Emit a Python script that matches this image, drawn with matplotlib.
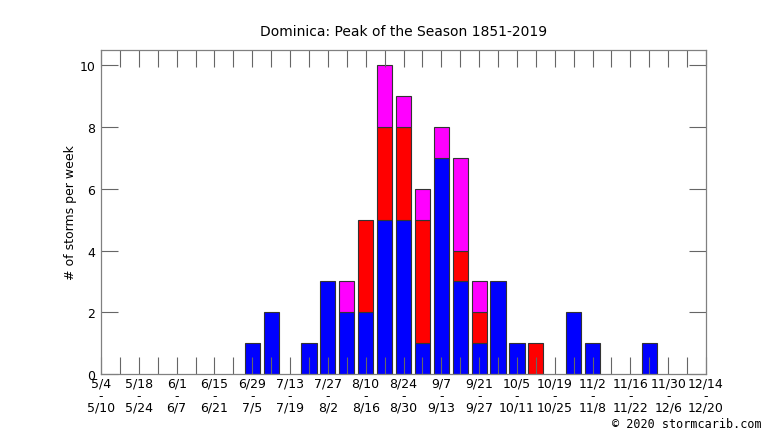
import matplotlib
matplotlib.use("Agg")
import matplotlib.pyplot as plt
import numpy as np

# week index 0 = 5/4 ... 32 = 12/14
weeks = list(range(33))
blue = [0,0,0,0,0,0,0,0,1,2,0,1,3,2,2,5,5,1,7,3,1,3,1,0,0,2,1,0,0,1,0,0,0]
red  = [0,0,0,0,0,0,0,0,0,0,0,0,0,0,3,3,3,4,0,1,1,0,0,1,0,0,0,0,0,0,0,0,0]
mag  = [0,0,0,0,0,0,0,0,0,0,0,0,0,1,0,2,1,1,1,3,1,0,0,0,0,0,0,0,0,0,0,0,0]

label_starts = ["5/4","5/18","6/1","6/15","6/29","7/13","7/27","8/10","8/24",
                "9/7","9/21","10/5","10/19","11/2","11/16","11/30","12/14"]
label_ends = ["5/10","5/24","6/7","6/21","7/5","7/19","8/2","8/16","8/30",
              "9/13","9/27","10/11","10/25","11/8","11/22","12/6","12/20"]
yticks = [0, 2, 4, 6, 8, 10]

fig = plt.figure(figsize=(7.66, 4.31), dpi=100)
ax = fig.add_axes([101/766, 56/431, 605/766, 324/431])

b = np.array(blue); r = np.array(red); m = np.array(mag)
w = 0.8
ec = '#333333'
def draw(vals, bottom, color):
    for x, v, bt in zip(weeks, vals, bottom):
        if v > 0:
            ax.bar(x, v, bottom=bt, width=w, color=color, edgecolor=ec, linewidth=0.8)
draw(b, np.zeros_like(b), '#0000ff')
draw(r, b, '#ff0000')
draw(m, b + r, '#ff00ff')

ax.set_xlim(0, 32)
ax.set_ylim(0, 10.5)

ax.set_xticks(list(range(0, 33, 2)))
ax.set_xticklabels([f"{s}\n-\n{e}" for s, e in zip(label_starts, label_ends)],
                   fontsize=9, linespacing=0.88)
ax.set_xticks(list(range(0, 33)), minor=True)
ax.set_yticks(yticks)
ax.set_yticklabels([str(v) for v in yticks], fontsize=9)

tc = '#666666'
ax.tick_params(axis='x', which='both', direction='in', length=12.5, width=0.8,
               color=tc, top=True, bottom=True, pad=2)
ax.tick_params(axis='y', which='both', direction='in', length=12.5, width=0.8,
               color=tc, left=True, right=True, pad=4)
for s in ax.spines.values():
    s.set_color('#808080')
    s.set_linewidth(0.9)

ax.set_ylabel("# of storms per week", fontsize=9, labelpad=2)
ax.set_title("Dominica: Peak of the Season 1851-2019", fontsize=10, pad=11)
fig.text(762/766, 1 - 425/431, "© 2020 stormcarib.com", ha='right', va='center',
         fontsize=8.5, family='DejaVu Sans Mono')

fig.savefig("out.png", dpi=100)
